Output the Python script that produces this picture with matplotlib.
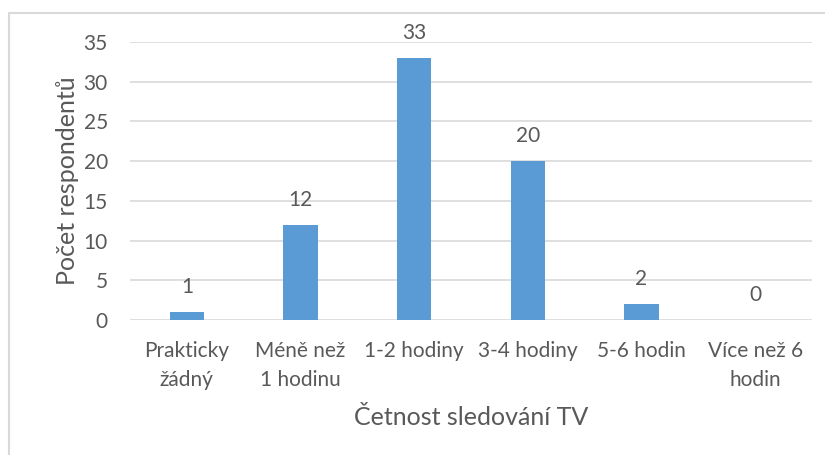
import matplotlib
matplotlib.use('Agg')
import matplotlib.pyplot as plt
from matplotlib.patches import Rectangle

plt.rcParams['font.family'] = ['Lato', 'DejaVu Sans']

# data
categories = ['Prakticky\nžádný', 'Méně než\n1 hodinu', '1-2 hodiny', '3-4 hodiny', '5-6 hodin', 'Více než 6\nhodin']
respondents = [1, 12, 33, 20, 2, 0]

text_color = '#595959'
grid_color = '#D9D9D9'
bar_color = '#5B9BD5'

fig = plt.figure(figsize=(8.25, 4.55), dpi=100)
ax = fig.add_axes([130 / 825, 1 - 320 / 455, 682 / 825, 278 / 455])

x = range(len(categories))
bars = ax.bar(x, respondents, width=0.3, color=bar_color, zorder=3)

# value labels above the bars
for bar, val in zip(bars, respondents):
    ax.annotate(str(val), (bar.get_x() + bar.get_width() / 2, val),
                xytext=(0, 18), textcoords='offset points',
                ha='center', va='center', fontsize=15, color=text_color)

ax.set_xlim(-0.5, len(categories) - 0.5)
ax.set_ylim(0, 35)
ax.set_yticks(range(0, 36, 5))
ax.set_xticks(list(x))
ax.set_xticklabels(categories, linespacing=1.6)
ax.tick_params(axis='both', length=0, labelsize=15, labelcolor=text_color)
ax.tick_params(axis='x', pad=15)
ax.tick_params(axis='y', pad=16)

ax.grid(axis='y', color=grid_color, linewidth=1.2, zorder=0)
for side in ['top', 'right', 'left', 'bottom']:
    ax.spines[side].set_visible(False)

ax.set_xlabel('Četnost sledování TV', fontsize=18, color=text_color)
ax.set_ylabel('Počet respondentů', fontsize=18, color=text_color)
ax.xaxis.set_label_coords(0.5, -0.31)
ax.yaxis.set_label_coords(-0.075, 0.5)

# chart border
fig.patches.append(Rectangle((9 / 825, -0.1), 1.2, 1 - 13 / 455 + 0.1,
                             transform=fig.transFigure, fill=False,
                             edgecolor=grid_color, linewidth=1.5))

fig.savefig('out.png', dpi=100)
